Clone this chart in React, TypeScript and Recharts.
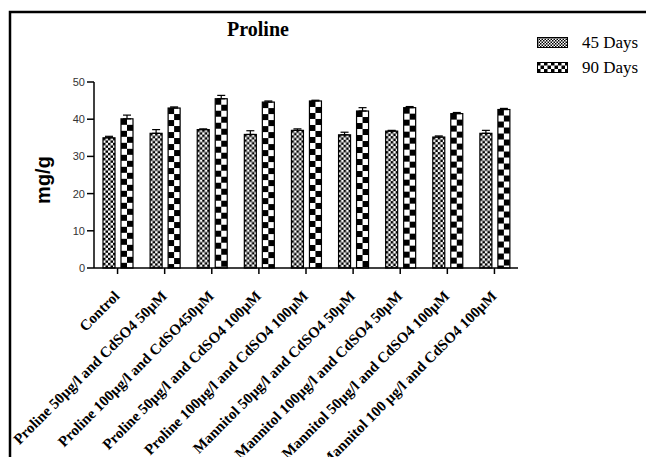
import React from 'react';
import { BarChart, Bar, XAxis, YAxis, ErrorBar, Legend } from 'recharts';

const categories = [
  'Control',
  'Proline 50µg/l and CdSO4 50µM',
  'Proline 100µg/l and CdSO450µM',
  'Proline 50µg/l and CdSO4 100µM',
  'Proline 100µg/l and CdSO4 100µM',
  'Mannitol 50µg/l and CdSO4 50µM',
  'Mannitol 100µg/l and CdSO4 50µM',
  'Mannitol 50µg/l and CdSO4 100µM',
  'Mannitol 100 µg/l and CdSO4 100µM',
];
const days45 = [35.0, 36.2, 37.2, 35.9, 37.0, 35.8, 36.8, 35.2, 36.2];
const err45 = [0.4, 1.0, 0.2, 1.0, 0.4, 0.7, 0.2, 0.3, 0.8];
const days90 = [40.1, 43.0, 45.5, 44.6, 44.9, 42.2, 43.1, 41.5, 42.6];
const err90 = [1.0, 0.3, 0.9, 0.3, 0.2, 0.9, 0.3, 0.3, 0.3];
const yTicks = [0, 10, 20, 30, 40, 50];

const data = categories.map((name, i) => ({
  name,
  d45: days45[i],
  d90: days90[i],
  e45: [0, err45[i]],
  e90: [0, err90[i]],
}));

const SERIF = '"Liberation Serif", "Times New Roman", serif';
const SANS = '"Liberation Sans", Arial, sans-serif';

// checkerboard fill, cell size c, anchored at the bar's own corner
function Checker({ id, c, x, y }: { id: string; c: number; x: number; y: number }) {
  return (
    <pattern id={id} patternUnits="userSpaceOnUse" x={x} y={y} width={c * 2} height={c * 2}>
      <rect width={c * 2} height={c * 2} fill="#fff" />
      <rect width={c} height={c} fill="#000" />
      <rect x={c} y={c} width={c} height={c} fill="#000" />
    </pattern>
  );
}

function makeShape(key: string, c: number) {
  return (props: any) => {
    const { x, y, width, height, index } = props;
    if (!height || height <= 0) return null;
    const id = `pat-${key}-${index}`;
    return (
      <g>
        <defs>
          <Checker id={id} c={c} x={x} y={y} />
        </defs>
        <rect x={x} y={y} width={width} height={height} fill={`url(#${id})`} stroke="#000" strokeWidth={1.2} />
      </g>
    );
  };
}

const Shape45 = makeShape('45', 2.5);
const Shape90 = makeShape('90', 6);

function XTick({ x, y, payload }: any) {
  return (
    <text
      transform={`translate(${x + 3},${y + 22}) rotate(-45)`}
      textAnchor="end"
      fontFamily={SERIF}
      fontWeight="bold"
      fontSize={15}
      fill="#000"
    >
      {payload.value}
    </text>
  );
}

function YLabel() {
  return (
    <text
      transform="translate(50,180) rotate(-90)"
      textAnchor="middle"
      fontFamily={SANS}
      fontWeight="bold"
      fontSize={20}
      fill="#000"
    >
      mg/g
    </text>
  );
}

const legendItems = [
  { label: '45 Days', c: 1.5 },
  { label: '90 Days', c: 3.5 },
];

function LegendBox() {
  return (
    <div style={{ fontFamily: SERIF, fontSize: 17, color: '#000' }}>
      {legendItems.map((it, i) => (
        <div key={it.label} style={{ display: 'flex', alignItems: 'center', height: 25 }}>
          <svg width={31} height={11} style={{ marginRight: 14 }}>
            <defs>
              <Checker id={`leg-${i}`} c={it.c} x={0} y={0} />
            </defs>
            <rect x={0.5} y={0.5} width={30} height={10} fill={`url(#leg-${i})`} stroke="#000" strokeWidth={1} />
          </svg>
          <span>{it.label}</span>
        </div>
      ))}
    </div>
  );
}

export default function App() {
  return (
    <div style={{ position: 'absolute', left: 0, top: 0, width: 646, height: 457, background: '#fff' }}>
      <BarChart
        width={646}
        height={457}
        data={data}
        margin={{ top: 82, right: 128, left: 0, bottom: 0 }}
        barSize={12}
        barGap={6}
      >
        <XAxis
          dataKey="name"
          interval={0}
          height={189}
          tick={<XTick />}
          tickSize={6}
          tickMargin={1}
          axisLine={{ stroke: '#000', strokeWidth: 1.5 }}
          tickLine={{ stroke: '#000', strokeWidth: 1.5 }}
        />
        <YAxis
          width={94}
          domain={[0, 50]}
          ticks={yTicks}
          tickSize={7}
          tickMargin={2}
          tick={{ fontSize: 11, fill: '#333', fontFamily: SANS }}
          axisLine={{ stroke: '#000', strokeWidth: 1.5 }}
          tickLine={{ stroke: '#000', strokeWidth: 1.5 }}
          label={<YLabel />}
        />
        <Legend
          layout="vertical"
          align="center"
          verticalAlign="middle"
          width={110}
          wrapperStyle={{ left: 537, top: 30 }}
          content={<LegendBox />}
        />
        <Bar dataKey="d45" shape={Shape45} isAnimationActive={false}>
          <ErrorBar dataKey="e45" width={4} stroke="#000" strokeWidth={1.2} direction="y" />
        </Bar>
        <Bar dataKey="d90" shape={Shape90} isAnimationActive={false}>
          <ErrorBar dataKey="e90" width={4} stroke="#000" strokeWidth={1.2} direction="y" />
        </Bar>
      </BarChart>
      <svg width={646} height={457} style={{ position: 'absolute', left: 0, top: 0, pointerEvents: 'none' }}>
        <path d="M10,457 L10,12 L646,12" fill="none" stroke="#000" strokeWidth={2.5} />
        <text x={258} y={36} textAnchor="middle" fontFamily={SERIF} fontWeight="bold" fontSize={20} fill="#000">
          Proline
        </text>
      </svg>
    </div>
  );
}
